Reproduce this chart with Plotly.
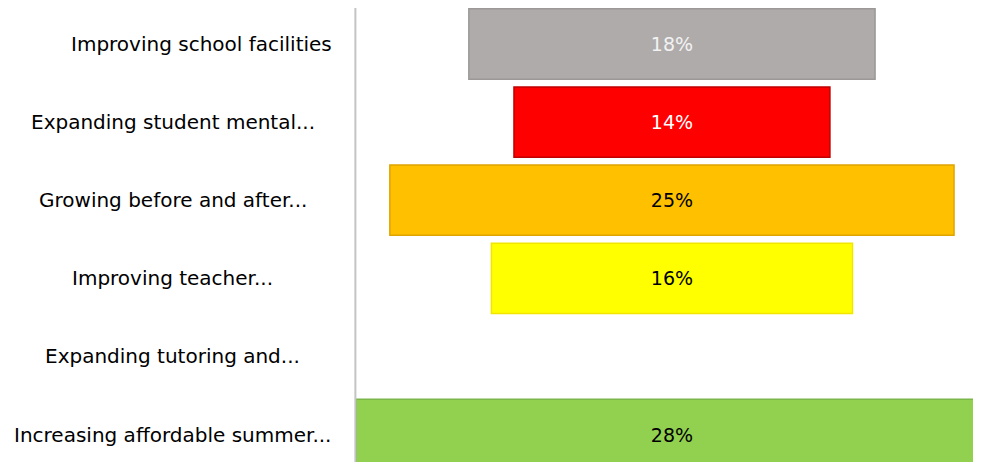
import plotly.graph_objects as go

categories = [
    "Improving school facilities",
    "Expanding student mental...",
    "Growing before and after...",
    "Improving teacher...",
    "Expanding tutoring and...",
    "Increasing affordable summer...",
]
values = [18, 14, 25, 16, None, 28]

fill_colors = ["#AFABAB", "#FF0000", "#FFC000", "#FFFF00", "#FFFFFF", "#92D050"]
edge_colors = ["#9C9898", "#C00000", "#E0A400", "#F2E600", "#FFFFFF", "#7AB648"]
text_colors = ["#F2F2F2", "#FFFFFF", "#000000", "#000000", "#000000", "#000000"]

# label centres in paper coords (plot area starts at 348px in the div, 617px wide)
label_x = [-0.2496, -0.2966, -0.2966, -0.2966, -0.2966, -0.2982]

FONT = "DejaVu Sans"

bases = [-v / 2 if v is not None else None for v in values]
texts = [f"{v}%" if v is not None else "" for v in values]

fig = go.Figure()
fig.add_trace(
    go.Bar(
        y=categories,
        x=values,
        base=bases,
        orientation="h",
        width=0.9,
        marker=dict(color=fill_colors, line=dict(color=edge_colors, width=1.5)),
        text=texts,
        textposition="inside",
        insidetextanchor="middle",
        textangle=0,
        constraintext="none",
        textfont=dict(family=FONT, size=19, color=text_colors),
        hoverinfo="skip",
    )
)

for cat, lx in zip(categories, label_x):
    fig.add_annotation(
        x=lx, xref="paper", y=cat, yref="y",
        text=cat, showarrow=False, xanchor="center",
        font=dict(family=FONT, size=20, color="#000000"),
    )

# vertical category axis line
fig.add_shape(
    type="line", xref="paper", yref="paper",
    x0=-0.001, x1=-0.001, y0=0, y1=1,
    line=dict(color="#C4C4C4", width=2),
)

# sized so the page (with the 8px body margin) fits the 981x470 window
fig.update_layout(
    width=965,
    height=454,
    margin=dict(l=348, r=0, t=0, b=0),
    paper_bgcolor="white",
    plot_bgcolor="white",
    showlegend=False,
    xaxis=dict(range=[-14, 13.34], visible=False, fixedrange=True),
    yaxis=dict(
        categoryorder="array",
        categoryarray=categories[::-1],
        range=[-0.352, 5.461],
        showticklabels=False,
        showgrid=False,
        zeroline=False,
        fixedrange=True,
    ),
)

fig.write_html("out.html")
